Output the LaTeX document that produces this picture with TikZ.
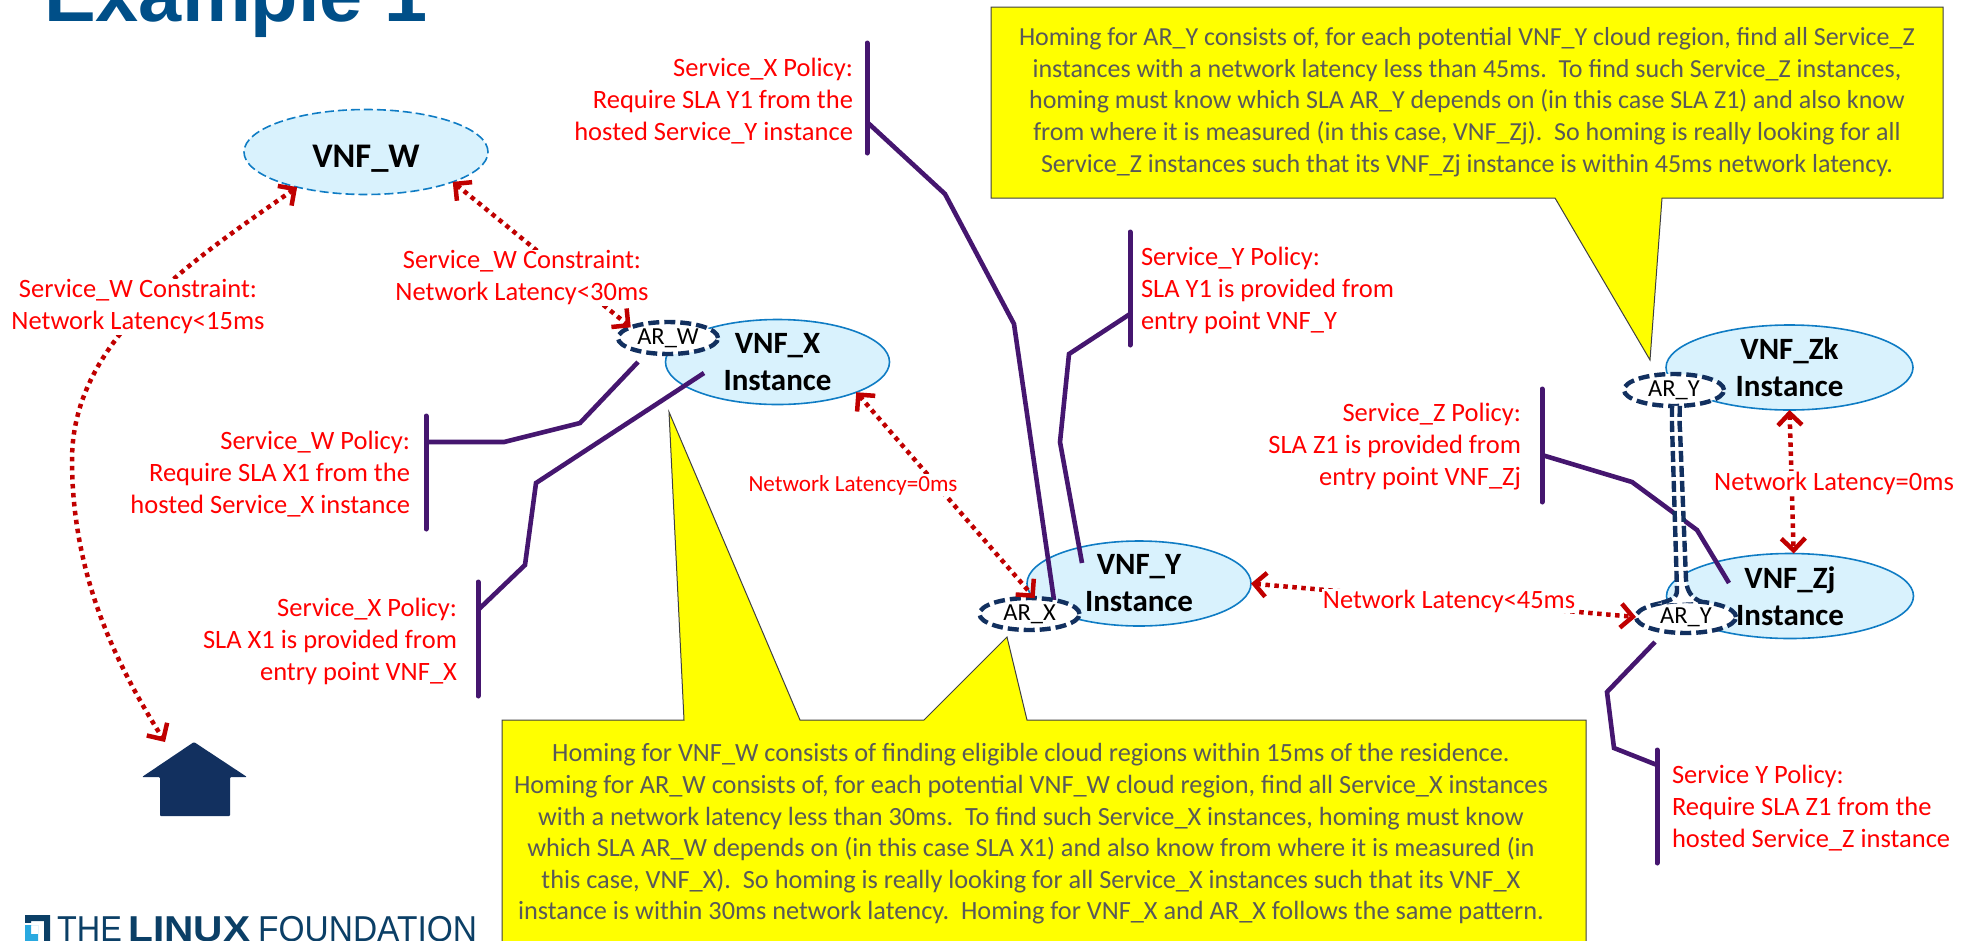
\documentclass[tikz,border=0pt]{standalone}
\usepackage{fontspec}
\setmainfont{Carlito}
\newfontfamily\lib{Liberation Sans}
\usetikzlibrary{arrows.meta,shapes.geometric}
\definecolor{ellfill}{HTML}{D9F2FD}
\definecolor{ellline}{HTML}{0F7CC4}
\definecolor{navy}{HTML}{12305F}
\definecolor{purp}{HTML}{45166F}
\definecolor{darkred}{HTML}{C00000}
\definecolor{titleblue}{HTML}{004F88}
\definecolor{logoblue}{HTML}{0B3F66}
\definecolor{logocyan}{HTML}{29A9E0}
\definecolor{calltext}{HTML}{595959}
\definecolor{callfill}{HTML}{FFFF00}
\definecolor{redtext}{HTML}{FF0000}
\tikzset{
  x=1pt,y=-1pt,
  vnf/.style={ellipse,draw=ellline,fill=ellfill,line width=1.6pt,inner sep=0pt,outer sep=0pt,minimum width=224pt,minimum height=85pt,font=\fontsize{31}{37}\selectfont\bfseries,align=center,execute at begin node={\rule{0pt}{36pt}}},
  arnode/.style={ellipse,draw=navy,fill=white,line width=4.4pt,dash pattern=on 11pt off 5pt,inner sep=0pt,outer sep=0pt,minimum width=100pt,minimum height=32pt,font=\fontsize{24.5}{28}\selectfont,text=black},
  redlabel/.style={text=redtext,font=\fontsize{26.5}{32}\selectfont,inner sep=1pt,outer sep=0pt},
  policy/.style={redlabel,align=right,anchor=east},
  policyl/.style={redlabel,align=left,anchor=west},
  halo/.style={redlabel,align=center,fill=white},
  plink/.style={draw=purp,line width=4.6pt,line join=miter},
  pbar/.style={draw=purp,line width=5pt,line cap=round},
  latency/.style={draw=darkred,line width=4.5pt,dash pattern=on 4.5pt off 4.5pt},
  tube/.style={draw=navy,line width=4.4pt,dash pattern=on 11pt off 4pt},
  callout/.style={draw=black!75,fill=callfill,line width=1pt,line join=miter},
  calltxt/.style={text=calltext,font=\fontsize{26}{31.6}\selectfont,align=center,inner sep=0pt},
  >={Straight Barb[length=12pt,width=24pt,line width=4.5pt]},
}
\begin{document}
\begin{tikzpicture}
\useasboundingbox (0,0) rectangle (1967,940);
% title
\node[anchor=base west,inner sep=0pt,text=titleblue,font=\fontsize{77.5}{80}\selectfont\lib\bfseries] (title) at (44,21) {Example 1};
% ellipses
\node[vnf,dashed,dash pattern=on 9pt off 4pt,minimum width=244pt,font=\fontsize{34.5}{38}\selectfont\bfseries,execute at begin node={\rule{0pt}{28pt}}] (vnfw) at (366,152) {VNF\_W};
\node[vnf] (vnfx) at (777.5,362) {VNF\_X\\Instance};
\node[vnf] (vnfy) at (1139,583.5) {VNF\_Y\\Instance};
\node[vnf,minimum width=247pt] (vnfzk) at (1789.5,367.5) {VNF\_Zk\\Instance};
\node[vnf,minimum width=247pt] (vnfzj) at (1790,596) {VNF\_Zj\\Instance};
% policy bars
\coordinate (bXtT) at (867,43); \coordinate (bXtB) at (867,153); \coordinate (bXtM) at (867,122);
\coordinate (bYT) at (1130,232); \coordinate (bYB) at (1130,345); \coordinate (bYM) at (1130,314);
\coordinate (bZT) at (1542,389); \coordinate (bZB) at (1542,502); \coordinate (bZM) at (1542,455);
\coordinate (bYpT) at (1657,750); \coordinate (bYpB) at (1657,863); \coordinate (bYpM) at (1657,765);
\coordinate (bWT) at (426,416); \coordinate (bWB) at (426,529); \coordinate (bWM) at (426,442);
\coordinate (bXlT) at (478,582); \coordinate (bXlB) at (478,696); \coordinate (bXlM) at (478,610);
\foreach \a/\b in {bXtT/bXtB,bYT/bYB,bZT/bZB,bYpT/bYpB,bWT/bWB,bXlT/bXlB}{\draw[pbar] (\a) -- (\b);}
% purple links
\coordinate (eXt) at (1054,600);
\coordinate (eY) at (1082,563);
\coordinate (eZ) at (1729,583);
\coordinate (eYp) at (1655,642);
\coordinate (eW) at (638,362);
\coordinate (eXl) at (704,373);
\draw[plink] (bXtM) -- (945,194) -- (1014,324) -- (eXt);
\draw[plink] (bYM) -- (1069,354) -- (1060,442) -- (eY);
\draw[plink] (bZM) -- (1632,482) -- (1697,530) -- (eZ);
\draw[plink] (bYpM) -- (1614,748) -- (1607,692) -- (eYp);
\draw[plink] (bWM) -- (504,442) -- (580,423) -- (eW);
\draw[plink] (bXlM) -- (525,565) -- (536,483) -- (eXl);
% AR nodes
\node[arnode] (arw) at (668,338) {AR\_W};
\node[arnode] (arx) at (1029.5,614) {AR\_X};
\node[arnode] (aryu) at (1674,390) {AR\_Y};
\node[arnode] (aryl) at (1686,617) {AR\_Y};
% tube
\fill[white] (aryu.-97) -- (aryu.-70) .. controls (1680,412) and (1679,420) .. (1680,430) -- (1686,580) .. controls (1687,592) and (1692,598) .. (aryl.45) -- (aryl.155) .. controls (1672,600) and (1677,598) .. (1677,590) -- (1672,425) .. controls (1672,415) and (1672,410) .. cycle;
\draw[tube] (aryu.-70) .. controls (1680,412) and (1679,420) .. (1680,430) -- (1686,580) .. controls (1687,592) and (1692,598) .. (aryl.45);
\draw[tube] (aryu.-97) .. controls (1672,410) and (1672,415) .. (1672,425) -- (1677,590) .. controls (1677,598) and (1672,600) .. (aryl.155);
% house
\coordinate (housetip) at (165,742);
\fill[navy,rounded corners=1pt] (194,742) -- (247,777) -- (230,777) -- (230,816) -- (160,816) -- (160,777) -- (142,777) -- cycle;
% latency arrows
\draw[latency,<->] (vnfw.-19) -- (arw.164);
\draw[latency,<->] (vnfw.207.6) .. controls (190,262) and (72,340) .. (72,460) .. controls (72,580) and (120,670) .. (housetip);
\draw[latency,<->] (vnfx.-21) -- (arx.72);
\draw[latency,<->] (vnfy.0) -- (aryl.180);
\draw[latency,<->] (vnfzk.-90) -- (vnfzj.85);
% labels
\node[halo] (lw15) at (138,307) {Service\_W Constraint:\\Network Latency<15ms};
\node[halo] (lw30) at (522,278) {Service\_W Constraint:\\Network Latency<30ms};
\node[halo,font=\fontsize{23.1}{28}\selectfont] (lx0) at (853,485) {Network Latency=0ms};
\node[halo,font=\fontsize{26.4}{31}\selectfont] (l45) at (1449,601) {Network Latency<45ms};
\node[halo] (lz0) at (1834,483) {Network Latency=0ms};
\node[policy] (pX) at (854,101) {Service\_X Policy:\\Require SLA Y1 from the\\hosted Service\_Y instance};
\node[policy] (pW) at (411,474) {Service\_W Policy:\\Require SLA X1 from the\\hosted Service\_X instance};
\node[policy] (pXl) at (458,641) {Service\_X Policy:\\SLA X1 is provided from\\entry point VNF\_X};
\node[policy] (pZ) at (1522,447) {Service\_Z Policy:\\SLA Z1 is provided from\\entry point VNF\_Zj};
\node[policyl] (pY) at (1140,290) {Service\_Y Policy:\\SLA Y1 is provided from\\entry point VNF\_Y};
\node[policyl] (pYp) at (1671,808) {Service Y Policy:\\Require SLA Z1 from the\\hosted Service\_Z instance};
% callouts
\draw[callout] (991,7) -- (1943,7) -- (1943,198) -- (1662,198) -- (1650,360) -- (1555,198) -- (991,198) -- cycle;
\node[calltxt] (ctop) at (1467,102) {Homing for AR\_Y consists of, for each potential VNF\_Y cloud region, find all Service\_Z\\instances with a network latency less than 45ms.\ \ To find such Service\_Z instances,\\homing must know which SLA AR\_Y depends on (in this case SLA Z1) and also know\\from where it is measured (in this case, VNF\_Zj).\ \ So homing is really looking for all\\Service\_Z instances such that its VNF\_Zj instance is within 45ms network latency.};
\draw[callout] (502,720) -- (684,720) -- (669,412) -- (800,720) -- (924,720) -- (1007,637) -- (1027,720) -- (1586,720) -- (1586,950) -- (502,950) -- cycle;
\node[calltxt,font=\fontsize{26.3}{31.6}\selectfont] (cbot) at (1031,834) {Homing for VNF\_W consists of finding eligible cloud regions within 15ms of the residence.\\Homing for AR\_W consists of, for each potential VNF\_W cloud region, find all Service\_X instances\\with a network latency less than 30ms.\ \ To find such Service\_X instances, homing must know\\which SLA AR\_W depends on (in this case SLA X1) and also know from where it is measured (in\\this case, VNF\_X).\ \ So homing is really looking for all Service\_X instances such that its VNF\_X\\instance is within 30ms network latency.\ \ Homing for VNF\_X and AR\_X follows the same pattern.};
% logo
\fill[logoblue,even odd rule] (25,915) rectangle (50,945) (31,921) rectangle (44,945);
\fill[white] (25,923) rectangle (44,945);
\fill[logocyan,even odd rule] (25,925) rectangle (38,945) (31,925) rectangle (38,934);
\node[anchor=base west,inner sep=0pt,text=logoblue,xscale=.9,font=\fontsize{36}{40}\selectfont\lib] (lthe) at (57,941) {THE};
\node[anchor=base west,inner sep=0pt,text=logoblue,xscale=1.13,font=\fontsize{36}{40}\selectfont\lib\bfseries] (llin) at (128,941) {LINUX};
\node[anchor=base west,inner sep=0pt,text=logoblue,xscale=.93,font=\fontsize{36}{40}\selectfont\lib] (lfou) at (258,941) {FOUNDATION};
\end{tikzpicture}
\end{document}
